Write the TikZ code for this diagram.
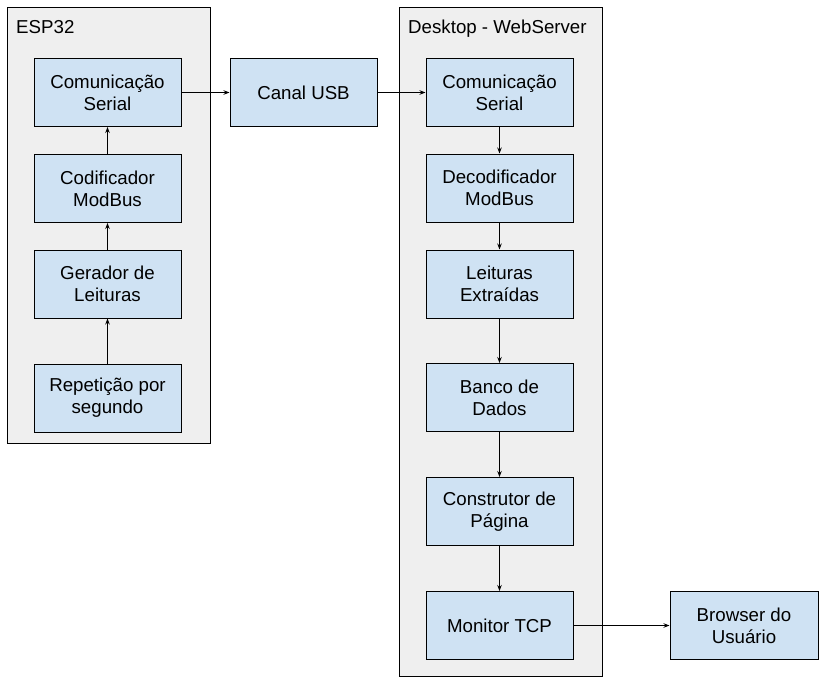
\documentclass[tikz,border=0pt]{standalone}
\usepackage{fontspec}
\setmainfont{Liberation Sans}
\usetikzlibrary{arrows.meta}
\definecolor{boxfill}{HTML}{CFE2F3}
\definecolor{groupfill}{HTML}{EFEFEF}
\definecolor{edge}{HTML}{000000}
\tikzset{
  group/.style={draw=edge, fill=groupfill, line width=1pt},
  block/.style={draw=edge, fill=boxfill, line width=1pt, rectangle,
    minimum width=147pt, minimum height=68pt, align=center, inner sep=0pt,
    font=\fontsize{18.7}{22}\selectfont},
  title/.style={anchor=base west, inner sep=0pt, font=\fontsize{18.7}{22}\selectfont},
  conn/.style={draw=edge, line width=0.9pt, -{Stealth[length=6pt,width=4.5pt]}}
}
\begin{document}
\begin{tikzpicture}[x=1pt,y=-1pt]
\useasboundingbox (0,0) rectangle (825,683);
% containers
\draw[group] (7,7) rectangle (210,443);
\draw[group] (399,7) rectangle (602,676);
\node[title] (t1) at (16,33) {ESP32};
\node[title] (t2) at (408,33) {Desktop - WebServer};
% ESP32 column
\node[block] (ecs) at (107.5,92.5) {Comunicação\\Serial};
\node[block] (ecod) at (107.5,188.5) {Codificador\\ModBus};
\node[block] (eger) at (107.5,284) {Gerador de\\Leituras};
\node[block] (erep) at (107.5,398) {Repetição por\\segundo};
% Canal
\node[block] (usb) at (303.5,92.5) {Canal USB};
% Desktop column
\node[block] (dcs) at (499.5,92.5) {Comunicação\\Serial};
\node[block] (ddec) at (499.5,188) {Decodificador\\ModBus};
\node[block] (dlei) at (499.5,284) {Leituras\\Extraídas};
\node[block] (dbd) at (499.5,397.5) {Banco de\\Dados};
\node[block] (dcon) at (499.5,511.5) {Construtor de\\Página};
\node[block] (dmon) at (499.5,625.5) {Monitor TCP};
% Browser
\node[block, minimum width=148pt] (brw) at (744,625.5) {Browser do\\Usuário};
% connectors
\draw[conn] (erep) -- (eger);
\draw[conn] (eger) -- (ecod);
\draw[conn] (ecod) -- (ecs);
\draw[conn] (ecs) -- (usb);
\draw[conn] (usb) -- (dcs);
\draw[conn] (dcs) -- (ddec);
\draw[conn] (ddec) -- (dlei);
\draw[conn] (dlei) -- (dbd);
\draw[conn] (dbd) -- (dcon);
\draw[conn] (dcon) -- (dmon);
\draw[conn] (dmon) -- (brw);
\end{tikzpicture}
\end{document}
